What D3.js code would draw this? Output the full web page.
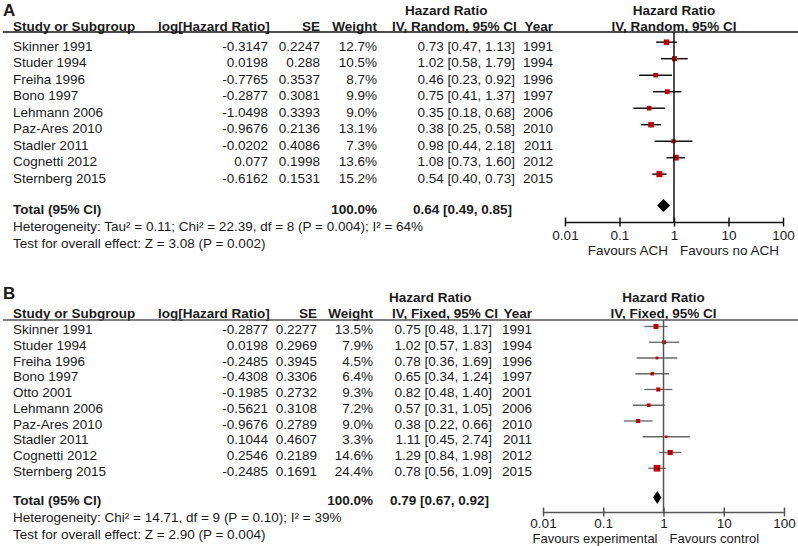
<!DOCTYPE html>
<html>
<head>
<meta charset="utf-8">
<script src="https://cdn.jsdelivr.net/npm/d3@7"></script>
<style>
  body { margin: 0; background: #fff; }
  svg { font-family: "Liberation Sans", Arial, sans-serif; font-size: 13.5px; }
  text { fill: #1a1a1a; }
  .bold { font-weight: bold; }
</style>
</head>
<body>
<div id="chart"></div>
<script>
// panel A - random effects
const studiesA = ['Skinner 1991', 'Studer 1994', 'Freiha 1996', 'Bono 1997', 'Lehmann 2006',
                  'Paz-Ares 2010', 'Stadler 2011', 'Cognetti 2012', 'Sternberg 2015']
const logHrA  = [-0.3147, 0.0198, -0.7765, -0.2877, -1.0498, -0.9676, -0.0202, 0.077, -0.6162]
const seA     = [0.2247, 0.288, 0.3537, 0.3081, 0.3393, 0.2136, 0.4086, 0.1998, 0.1531]
const weightA = [12.7, 10.5, 8.7, 9.9, 9.0, 13.1, 7.3, 13.6, 15.2]
const hrA     = [0.73, 1.02, 0.46, 0.75, 0.35, 0.38, 0.98, 1.08, 0.54]
const lowA    = [0.47, 0.58, 0.23, 0.41, 0.18, 0.25, 0.44, 0.73, 0.40]
const highA   = [1.13, 1.79, 0.92, 1.37, 0.68, 0.58, 2.18, 1.60, 0.73]
const yearA   = [1991, 1994, 1996, 1997, 2006, 2010, 2011, 2012, 2015]
const totalA  = [0.64, 0.49, 0.85]

// panel B - fixed effects
const studiesB = ['Skinner 1991', 'Studer 1994', 'Freiha 1996', 'Bono 1997', 'Otto 2001', 'Lehmann 2006',
                  'Paz-Ares 2010', 'Stadler 2011', 'Cognetti 2012', 'Sternberg 2015']
const logHrB  = [-0.2877, 0.0198, -0.2485, -0.4308, -0.1985, -0.5621, -0.9676, 0.1044, 0.2546, -0.2485]
const seB     = [0.2277, 0.2969, 0.3945, 0.3306, 0.2732, 0.3108, 0.2789, 0.4607, 0.2189, 0.1691]
const weightB = [13.5, 7.9, 4.5, 6.4, 9.3, 7.2, 9.0, 3.3, 14.6, 24.4]
const hrB     = [0.75, 1.02, 0.78, 0.65, 0.82, 0.57, 0.38, 1.11, 1.29, 0.78]
const lowB    = [0.48, 0.57, 0.36, 0.34, 0.48, 0.31, 0.22, 0.45, 0.84, 0.56]
const highB   = [1.17, 1.83, 1.69, 1.24, 1.40, 1.05, 0.66, 2.74, 1.98, 1.09]
const yearB   = [1991, 1994, 1996, 1997, 2001, 2006, 2010, 2011, 2012, 2015]
const totalB  = [0.79, 0.67, 0.92]

const tickValues = [0.01, 0.1, 1, 10, 100]

const svg = d3.select('#chart').append('svg')
    .attr('width', 798)
    .attr('height', 546)

function fmtCI(h, l, u) {
    return `${h.toFixed(2)} [${l.toFixed(2)}, ${u.toFixed(2)}]`
}

function drawPanel(p) {
    const g = svg.append('g')
    const n = p.studies.length

    const x = d3.scaleLog().domain([0.01, 100]).range(p.axisRange)
    const y = d3.scaleLinear().domain([0, n - 1]).range([p.firstRow, p.firstRow + p.rowStep * (n - 1)])

    g.append('text').text(p.label).attr('class', 'bold')
        .attr('x', 3).attr('y', p.labelY).style('font-size', '17px')

    // headers
    g.append('text').text('Hazard Ratio').attr('class', 'bold').attr('x', p.hrHeadX).attr('y', p.head1)
    g.append('text').text('Hazard Ratio').attr('class', 'bold')
        .attr('x', x(1)).attr('y', p.head1).attr('text-anchor', 'middle')

    const h2 = [
        ['Study or Subgroup', 13, 'start'],
        ['log[Hazard Ratio]', 158, 'start'],
        ['SE', p.seX, 'end'],
        ['Weight', p.wX, 'end'],
        [p.method, p.methodX, 'start'],
        ['Year', p.yearX, 'end']
    ]
    h2.forEach(h => {
        g.append('text').text(h[0]).attr('class', 'bold')
            .attr('x', h[1]).attr('y', p.head2).attr('text-anchor', h[2])
    })
    g.append('text').text(p.method).attr('class', 'bold')
        .attr('x', x(1)).attr('y', p.head2).attr('text-anchor', 'middle')

    g.append('line')
        .attr('x1', 3).attr('x2', 798)
        .attr('y1', p.lineY).attr('y2', p.lineY)
        .attr('stroke', p.lineColor).attr('stroke-width', 1.5)

    // rows
    const rows = g.selectAll('g.row')
        .data(p.studies)
        .enter()
        .append('g')
        .attr('class', 'row')

    rows.append('text').text(d => d).attr('x', 13).attr('y', (d, i) => y(i))
    rows.append('text').text((d, i) => String(p.logHr[i]))
        .attr('x', 268).attr('y', (d, i) => y(i)).attr('text-anchor', 'end')
    rows.append('text').text((d, i) => String(p.se[i]))
        .attr('x', p.seX).attr('y', (d, i) => y(i)).attr('text-anchor', 'end')
    rows.append('text').text((d, i) => p.weight[i].toFixed(1) + '%')
        .attr('x', p.wX).attr('y', (d, i) => y(i)).attr('text-anchor', 'end')
    rows.append('text').text((d, i) => fmtCI(p.hr[i], p.low[i], p.high[i]))
        .attr('x', p.ciX).attr('y', (d, i) => y(i)).attr('text-anchor', 'end')
    rows.append('text').text((d, i) => p.year[i])
        .attr('x', p.yearX).attr('y', (d, i) => y(i)).attr('text-anchor', 'end')

    // reference line at 1
    g.append('line')
        .attr('x1', x(1)).attr('x2', x(1))
        .attr('y1', p.lineY).attr('y2', p.axisY)
        .attr('stroke', p.lineColor).attr('stroke-width', 1.5)

    rows.append('line')
        .attr('x1', (d, i) => x(p.low[i]))
        .attr('x2', (d, i) => x(p.high[i]))
        .attr('y1', (d, i) => y(i) - p.markOff)
        .attr('y2', (d, i) => y(i) - p.markOff)
        .attr('stroke', p.ciColor).attr('stroke-width', p.ciWidth)

    rows.append('rect')
        .attr('width', (d, i) => p.sq * Math.sqrt(p.weight[i]))
        .attr('height', (d, i) => p.sq * Math.sqrt(p.weight[i]))
        .attr('x', (d, i) => x(p.hr[i]) - p.sq * Math.sqrt(p.weight[i]) / 2)
        .attr('y', (d, i) => y(i) - p.markOff - p.sq * Math.sqrt(p.weight[i]) / 2)
        .attr('fill', '#c00000')

    // total
    g.append('text').text('Total (95% CI)').attr('class', 'bold').attr('x', 13).attr('y', p.totalY)
    g.append('text').text('100.0%').attr('class', 'bold')
        .attr('x', p.wX).attr('y', p.totalY).attr('text-anchor', 'end')
    g.append('text').text(fmtCI(p.total[0], p.total[1], p.total[2])).attr('class', 'bold')
        .attr('x', p.ciX - 3).attr('y', p.totalY).attr('text-anchor', 'end')

    const dy = p.totalY - p.markOff
    const dh = 6.5
    g.append('path')
        .attr('d', `M${x(p.total[1])},${dy} L${x(p.total[0])},${dy - dh} L${x(p.total[2])},${dy} L${x(p.total[0])},${dy + dh} Z`)
        .attr('fill', '#000')

    g.append('text').text(p.hetero).attr('x', 13).attr('y', p.totalY + 17)
    g.append('text').text(p.test).attr('x', 13).attr('y', p.totalY + 33.5)

    // axis
    const axis = d3.axisBottom(x)
        .tickValues(tickValues)
        .tickFormat(d => String(d))
        .tickSizeInner(4)
        .tickSizeOuter(0)
        .tickPadding(p.tickPad)

    const ax = g.append('g')
        .attr('transform', `translate(0, ${p.axisY})`)
        .call(axis)
        .style('font-size', '13.5px')
        .style('font-family', '"Liberation Sans", Arial, sans-serif')

    ax.select('.domain').attr('stroke', p.lineColor).attr('stroke-width', 1.5)
    ax.selectAll('.tick line').attr('y1', -4.5).attr('y2', 4.5)
        .attr('stroke', p.lineColor).attr('stroke-width', 1.5)
    ax.selectAll('.tick text').attr('fill', '#1a1a1a')

    g.append('text').text(p.favLeft).attr('x', x(1) - 6).attr('y', p.favY).attr('text-anchor', 'end')
        .style('font-size', p.favSize)
    g.append('text').text(p.favRight).attr('x', x(1) + 6).attr('y', p.favY)
        .style('font-size', p.favSize)
}

drawPanel({
    label: 'A', labelY: 16, head1: 15, head2: 30.5, lineY: 32,
    studies: studiesA, logHr: logHrA, se: seA, weight: weightA,
    hr: hrA, low: lowA, high: highA, year: yearA, total: totalA,
    firstRow: 50.7, rowStep: 16.5, totalY: 214,
    seX: 320, wX: 377, ciX: 515, yearX: 553, hrHeadX: 405, methodX: 392,
    method: 'IV, Random, 95% CI',
    axisRange: [565, 783], axisY: 222, markOff: 8.5, tickPad: 4.5, favY: 255, favSize: '13.5px',
    sq: 1.55, lineColor: '#111', ciColor: '#111', ciWidth: 1.5,
    hetero: 'Heterogeneity: Tau² = 0.11; Chi² = 22.39, df = 8 (P = 0.004); I² = 64%',
    test: 'Test for overall effect: Z = 3.08 (P = 0.002)',
    favLeft: 'Favours ACH', favRight: 'Favours no ACH'
})

drawPanel({
    label: 'B', labelY: 299, head1: 302, head2: 318, lineY: 320,
    studies: studiesB, logHr: logHrB, se: seB, weight: weightB,
    hr: hrB, low: lowB, high: highB, year: yearB, total: totalB,
    firstRow: 334, rowStep: 15.75, totalY: 505,
    seX: 317, wX: 373, ciX: 492, yearX: 532, hrHeadX: 389, methodX: 392,
    method: 'IV, Fixed, 95% CI',
    axisRange: [543, 784], axisY: 512, markOff: 7.5, tickPad: 2.5, favY: 542.5, favSize: '13px',
    sq: 1.35, lineColor: '#555', ciColor: '#666', ciWidth: 1.3,
    hetero: 'Heterogeneity: Chi² = 14.71, df = 9 (P = 0.10); I² = 39%',
    test: 'Test for overall effect: Z = 2.90 (P = 0.004)',
    favLeft: 'Favours experimental', favRight: 'Favours control'
})
</script>
</body>
</html>
